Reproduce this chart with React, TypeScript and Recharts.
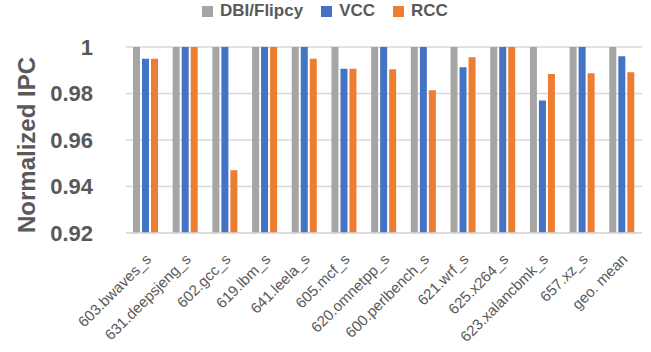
import React from "react";
import { BarChart, Bar, XAxis, YAxis, CartesianGrid } from "recharts";

// benchmarks on the x axis
const benchmarks = [
  "603.bwaves_s",
  "631.deepsjeng_s",
  "602.gcc_s",
  "619.lbm_s",
  "641.leela_s",
  "605.mcf_s",
  "620.omnetpp_s",
  "600.perlbench_s",
  "621.wrf_s",
  "625.x264_s",
  "623.xalancbmk_s",
  "657.xz_s",
  "geo. mean",
];

// normalized IPC per scheme
const dbiValues = [1, 1, 1, 1, 1, 1, 1, 1, 1, 1, 1, 1, 1];
const vccValues = [0.995, 1, 1, 1, 1, 0.9906, 1, 1, 0.9913, 1, 0.977, 1, 0.996];
const rccValues = [0.995, 1, 0.947, 1, 0.995, 0.9906, 0.9904, 0.9814, 0.9956, 1, 0.9884, 0.9887, 0.9891];

const yTicks = [0.92, 0.94, 0.96, 0.98, 1];

const series = [
  { key: "dbi", name: "DBI/Flipcy", color: "#A5A5A5" },
  { key: "vcc", name: "VCC", color: "#4472C4" },
  { key: "rcc", name: "RCC", color: "#ED7D31" },
];

const data = benchmarks.map((name, i) => ({
  name,
  dbi: dbiValues[i],
  vcc: vccValues[i],
  rcc: rccValues[i],
}));

const FONT = "'Liberation Sans', Arial, sans-serif";
const TEXT = "#595959";

const XTick = ({ x, y, payload }: any) => (
  <g transform={`translate(${x + 1},${y + 14})`}>
    <text
      x={0}
      y={0}
      dy="0.5em"
      textAnchor="end"
      transform="rotate(-45)"
      fill={TEXT}
      fontSize={15}
      fontFamily={FONT}
    >
      {payload.value}
    </text>
  </g>
);

// legend drawn as plain html above the plot
const TopLegend = () => (
  <div
    style={{
      position: "absolute",
      left: 202,
      top: 1,
      display: "flex",
      alignItems: "center",
      gap: 18,
      fontFamily: FONT,
      fontWeight: "bold",
      fontSize: 17,
      lineHeight: "20px",
      color: TEXT,
    }}
  >
    {series.map((s) => (
      <span key={s.key} style={{ display: "flex", alignItems: "center" }}>
        <span
          style={{
            width: 11,
            height: 11,
            background: s.color,
            display: "inline-block",
            marginRight: 7,
          }}
        />
        {s.name}
      </span>
    ))}
  </div>
);

export default function App() {
  return (
    <div
      style={{
        position: "absolute",
        left: 0,
        top: 0,
        width: 651,
        height: 352,
        background: "#fff",
      }}
    >
      <BarChart
        width={651}
        height={352}
        data={data}
        margin={{ top: 47, right: 9, bottom: 0, left: 0 }}
        barSize={7}
        barGap={2}
      >
        <CartesianGrid vertical={false} stroke="#D9D9D9" strokeWidth={1.5} />
        <XAxis
          dataKey="name"
          height={119}
          interval={0}
          tickLine={false}
          axisLine={{ stroke: "#D9D9D9", strokeWidth: 1.5 }}
          tick={<XTick />}
        />
        <YAxis
          width={126}
          domain={[0.92, 1]}
          ticks={yTicks}
          allowDataOverflow
          axisLine={false}
          tickLine={false}
          tickMargin={27}
          tickFormatter={(v: number) => (v === 1 ? "1" : v.toFixed(2))}
          tick={{ fill: TEXT, fontSize: 22, fontWeight: "bold", fontFamily: FONT }}
          label={{
            content: () => (
              <text
                x={26}
                y={145}
                transform="rotate(-90 26 145)"
                textAnchor="middle"
                dominantBaseline="central"
                fill={TEXT}
                fontSize={24}
                fontWeight="bold"
                fontFamily={FONT}
              >
                Normalized IPC
              </text>
            ),
          }}
        />
        {series.map((s) => (
          <Bar
            key={s.key}
            dataKey={s.key}
            name={s.name}
            fill={s.color}
            isAnimationActive={false}
          />
        ))}
      </BarChart>
      <TopLegend />
    </div>
  );
}
